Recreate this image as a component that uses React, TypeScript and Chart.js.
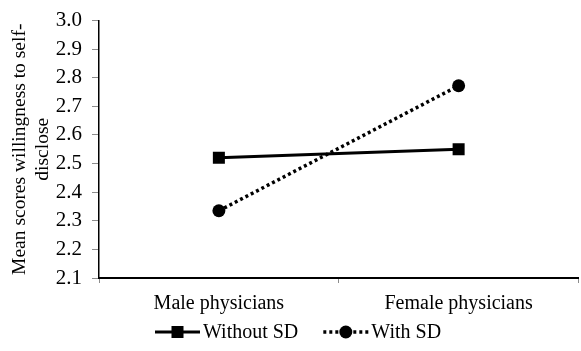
import React, { useEffect, useRef } from "react";
import { Chart, registerables } from "chart.js";

Chart.register(...registerables);

const categories = ["Male physicians", "Female physicians"];
const withoutSD = [2.52, 2.55];
const withSD = [2.335, 2.772];
const seriesNames = ["Without SD", "With SD"];
const yMin = 2.1;
const yMax = 3.0;
const yStep = 0.1;
const yTitle = ["Mean scores willingness to self-", "disclose"];

const FONT = "'Liberation Serif', 'Times New Roman', serif";

const legendPlugin = {
  id: "customLegend",
  afterDraw(chart: any) {
    const ctx = chart.ctx as CanvasRenderingContext2D;
    const ds = chart.data.datasets;
    ctx.save();
    ctx.font = `20px ${FONT}`;
    ctx.textBaseline = "middle";
    ctx.fillStyle = "#000";
    const y = 332;
    const lineW = 45;
    const gapText = 3;
    const gapItems = 25;
    const widths = ds.map((d: any) => lineW + gapText + ctx.measureText(d.label).width);
    let x = 155;
    ds.forEach((d: any, i: number) => {
      ctx.save();
      ctx.strokeStyle = "#000";
      ctx.lineWidth = d.borderWidth;
      ctx.setLineDash(d.borderDash || []);
      ctx.beginPath();
      ctx.moveTo(x, y);
      ctx.lineTo(x + lineW, y);
      ctx.stroke();
      ctx.setLineDash([]);
      ctx.fillStyle = "#000";
      const cx = x + lineW / 2;
      if (d.pointStyle === "rect") {
        ctx.fillRect(cx - 6, y - 6, 12, 12);
      } else {
        ctx.beginPath();
        ctx.arc(cx, y, 6.5, 0, Math.PI * 2);
        ctx.fill();
      }
      ctx.restore();
      ctx.fillText(d.label, x + lineW + gapText, y + 1);
      x += widths[i] + gapItems;
    });
    ctx.restore();
  },
};

export default function App() {
  const ref = useRef<HTMLCanvasElement | null>(null);
  useEffect(() => {
    if (!ref.current) return;
    const chart = new Chart(ref.current, {
      type: "line",
      data: {
        labels: categories,
        datasets: [
          {
            label: seriesNames[0],
            data: withoutSD,
            borderColor: "#000",
            backgroundColor: "#000",
            borderWidth: 3,
            pointStyle: "rect",
            pointRadius: 8.5,
            pointHoverRadius: 8.5,
            pointBorderWidth: 0,
            fill: false,
            tension: 0,
          },
          {
            label: seriesNames[1],
            data: withSD,
            borderColor: "#000",
            backgroundColor: "#000",
            borderWidth: 3.5,
            borderDash: [3, 3],
            pointStyle: "circle",
            pointRadius: 6.5,
            pointHoverRadius: 6.5,
            pointBorderWidth: 0,
            fill: false,
            tension: 0,
          },
        ],
      },
      options: {
        animation: false,
        responsive: false,
        maintainAspectRatio: false,
        layout: { padding: { left: 0, right: 2, top: 16, bottom: 0 } },
        plugins: {
          legend: { display: false },
          tooltip: { enabled: false },
        },
        scales: {
          x: {
            type: "category",
            offset: true,
            afterFit(scale: any) {
              scale.height = 73;
            },
            grid: {
              display: true,
              offset: true,
              drawOnChartArea: false,
              drawTicks: true,
              tickLength: 5,
              color: "#8c8c8c",
              lineWidth: 1,
            },
            border: { display: true, color: "#000", width: 2 },
            ticks: {
              color: "#000",
              font: { family: FONT, size: 20 },
              padding: 9,
              maxRotation: 0,
            },
          },
          y: {
            min: yMin,
            max: yMax,
            afterFit(scale: any) {
              scale.width = 99;
            },
            grid: {
              display: true,
              drawOnChartArea: false,
              drawTicks: true,
              tickLength: 7,
              color: "#8c8c8c",
              lineWidth: 1,
            },
            border: { display: true, color: "#000", width: 1.5 },
            ticks: {
              stepSize: yStep,
              autoSkip: false,
              color: "#000",
              font: { family: FONT, size: 21, lineHeight: 1 },
              padding: 10,
              callback: (v: any) => Number(v).toFixed(1),
            },
            title: {
              display: true,
              text: yTitle,
              color: "#000",
              font: { family: FONT, size: 19.5, lineHeight: 1.18 },
              padding: { top: 8, bottom: 0 },
            },
          },
        },
      },
      plugins: [legendPlugin],
    });
    return () => chart.destroy();
  }, []);
  return (
    <div style={{ position: "absolute", left: 0, top: 0, width: 581, height: 351, overflow: "hidden", background: "#fff" }}>
      <canvas ref={ref} width={587} height={351} style={{ display: "block", width: 587, height: 351 }} />
    </div>
  );
}
